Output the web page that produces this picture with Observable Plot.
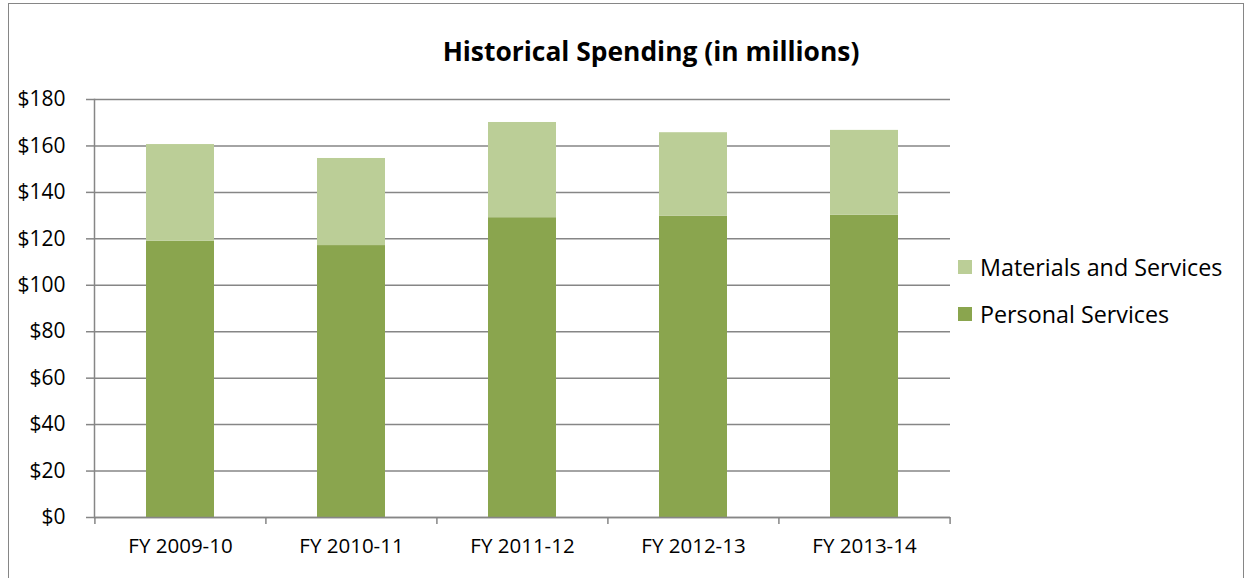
<!DOCTYPE html>
<html>
<head>
<meta charset="utf-8">
<script src="https://cdn.jsdelivr.net/npm/d3@7"></script>
<script src="https://cdn.jsdelivr.net/npm/@observablehq/plot@0.6"></script>
<style>
  html, body { margin: 0; padding: 0; background: #fff; }
  #wrap { position: relative; width: 1249px; height: 578px; overflow: hidden; background: #fff; font-family: "Open Sans", Lato, sans-serif; }
  #frame { position: absolute; left: 8px; top: 3px; width: 1236px; height: 640px; border: 1.5px solid #868686; box-sizing: border-box; }
  #title { position: absolute; left: 0; width: 1302px; top: 34px; text-align: center; font-weight: bold; font-size: 26.4px; line-height: 34px; color: #000; }
  #chart { position: absolute; left: 0; top: 0; }
  .leg { position: absolute; left: 958px; font-size: 23.3px; line-height: 28px; color: #000; white-space: nowrap; }
  .leg span.sw { position: absolute; left: 0; top: 7px; width: 14px; height: 14px; }
  .leg span.lb { position: absolute; left: 22px; top: 0; }
</style>
</head>
<body>
<div id="wrap">
  <div id="frame"></div>
  <div id="chart"></div>
  <div id="title">Historical Spending (in millions)</div>
  <div id="legend"></div>
</div>
<script>
const years = ["FY 2009-10", "FY 2010-11", "FY 2011-12", "FY 2012-13", "FY 2013-14"];
const seriesNames = ["Personal Services", "Materials and Services"];
const personal = [119.0, 117.1, 129.1, 129.8, 130.2];
const materials = [41.6, 37.5, 41.0, 35.9, 36.5];
const yTicks = [0, 20, 40, 60, 80, 100, 120, 140, 160, 180];
const colors = ["#8AA54E", "#BBCE97"];

const rows = [];
years.forEach((y, i) => rows.push({year: y, series: seriesNames[0], value: personal[i]}));
years.forEach((y, i) => rows.push({year: y, series: seriesNames[1], value: materials[i]}));

const W = 1249, H = 578, mL = 94, mR = 299, mT = 99, mB = 61;
const step = (W - mL - mR) / years.length;
const gray = "#868686";

const chart = Plot.plot({
  width: W, height: H,
  marginLeft: mL, marginRight: mR, marginTop: mT, marginBottom: mB,
  style: {fontFamily: "'Open Sans', Lato, sans-serif", fontSize: "20px", color: "#000", background: "transparent", overflow: "visible"},
  x: {domain: years, paddingInner: 0.6, paddingOuter: 0.3, label: null},
  y: {domain: [0, 180], label: null},
  color: {domain: seriesNames, range: colors},
  marks: [
    Plot.gridY(yTicks, {stroke: gray, strokeOpacity: 1, strokeWidth: 1.5}),
    Plot.barY(rows, {x: "year", y: "value", fill: "series"}),
    Plot.ruleY([0], {stroke: gray, strokeWidth: 1.5}),
    Plot.frame({anchor: "left", stroke: gray, strokeWidth: 1.5}),
    Plot.axisY(yTicks, {tickFormat: d => "$" + d, tickSize: 8, tickPadding: 21, stroke: gray, strokeWidth: 1.5, fill: "#000", fontSize: 21}),
    Plot.axisX(years, {tickSize: 7, tickFormat: () => "", dx: -step / 2, stroke: gray, strokeWidth: 1.5}),
    Plot.axisX([years[years.length - 1]], {tickSize: 7, tickFormat: () => "", dx: step / 2, stroke: gray, strokeWidth: 1.5}),
    Plot.axisX(years, {tickSize: 0, tickPadding: 21, fill: "#000", fontSize: 20.5})
  ]
});
document.getElementById("chart").appendChild(chart);

const legend = document.getElementById("legend");
const legendItems = [[seriesNames[1], colors[1], 253], [seriesNames[0], colors[0], 300]];
legendItems.forEach(([name, c, top]) => {
  const d = document.createElement("div");
  d.className = "leg";
  d.style.top = top + "px";
  d.innerHTML = `<span class="sw" style="background:${c}"></span><span class="lb">${name}</span>`;
  legend.appendChild(d);
});
</script>
</body>
</html>
